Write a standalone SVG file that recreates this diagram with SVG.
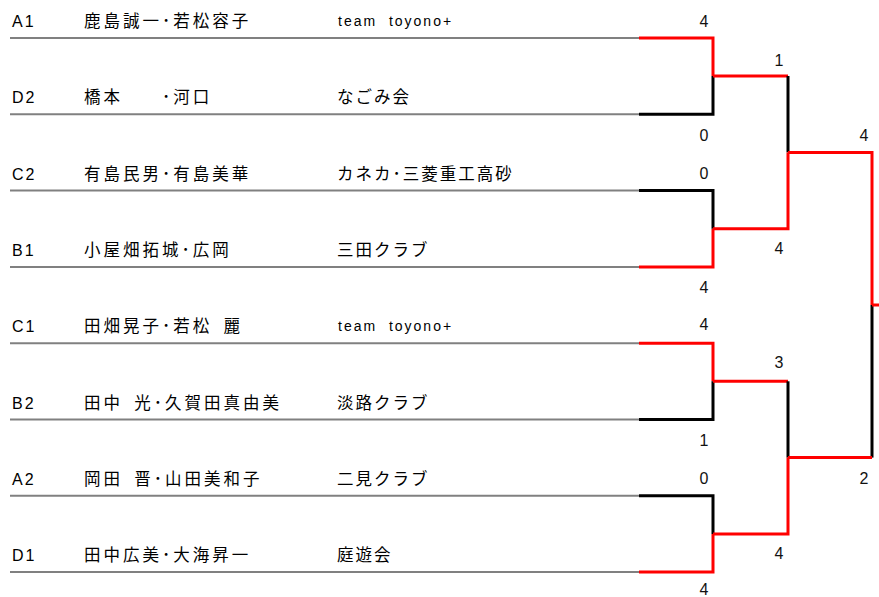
<svg xmlns="http://www.w3.org/2000/svg" width="879" height="597" viewBox="0 0 879 597">
<style>
.bg{fill:#fff}
.seed{font-family:"Liberation Sans","Noto Sans CJK JP",sans-serif;font-size:16px;letter-spacing:2px;fill:#000}
.name{font-family:"Noto Sans CJK JP","Liberation Sans",sans-serif;font-size:16.5px;letter-spacing:3px;fill:#000;white-space:pre}
.team{font-family:"Noto Sans CJK JP","Liberation Sans",sans-serif;font-size:16.5px;letter-spacing:2px;fill:#000;white-space:pre}
.latin{font-family:"Liberation Sans",sans-serif;font-size:14px;letter-spacing:2px;fill:#000;white-space:pre}
.score{font-family:"Liberation Sans",sans-serif;font-size:16px;fill:#111;text-anchor:middle}
.rule{stroke:#808080;stroke-width:2;fill:none}
.win{stroke:#ff0000;stroke-width:3;fill:none}
.lose{stroke:#000;stroke-width:3;fill:none}
</style>
<rect class="bg" x="0" y="0" width="879" height="597"/>

<g id="entry-A1">
<text class="seed" x="12" y="27">A1</text>
<text class="name" x="84" y="27">鹿島誠一･若松容子</text>
<text class="latin" x="338" y="26" xml:space="preserve">team  toyono+</text>
<line class="rule" x1="10" y1="38" x2="639" y2="38"/>
</g>
<g id="entry-D2">
<text class="seed" x="12" y="103.3">D2</text>
<text class="name" x="84" y="103.3">橋本　　･河口</text>
<text class="team" x="337" y="103.3">なごみ会</text>
<line class="rule" x1="10" y1="114.3" x2="639" y2="114.3"/>
</g>
<g id="entry-C2">
<text class="seed" x="12" y="179.6">C2</text>
<text class="name" x="84" y="179.6">有島民男･有島美華</text>
<text class="team" x="337" y="179.6">カネカ･三菱重工高砂</text>
<line class="rule" x1="10" y1="190.6" x2="639" y2="190.6"/>
</g>
<g id="entry-B1">
<text class="seed" x="12" y="255.9">B1</text>
<text class="name" x="84" y="255.9">小屋畑拓城･広岡</text>
<text class="team" x="337" y="255.9">三田クラブ</text>
<line class="rule" x1="10" y1="266.9" x2="639" y2="266.9"/>
</g>
<g id="entry-C1">
<text class="seed" x="12" y="332.2">C1</text>
<text class="name" x="84" y="332.2">田畑晃子･若松&#8194;麗</text>
<text class="latin" x="338" y="331.2" xml:space="preserve">team  toyono+</text>
<line class="rule" x1="10" y1="343.2" x2="639" y2="343.2"/>
</g>
<g id="entry-B2">
<text class="seed" x="12" y="408.5">B2</text>
<text class="name" x="84" y="408.5">田中&#8194;光･久賀田真由美</text>
<text class="team" x="337" y="408.5">淡路クラブ</text>
<line class="rule" x1="10" y1="419.5" x2="639" y2="419.5"/>
</g>
<g id="entry-A2">
<text class="seed" x="12" y="484.8">A2</text>
<text class="name" x="84" y="484.8">岡田&#8194;晋･山田美和子</text>
<text class="team" x="337" y="484.8">二見クラブ</text>
<line class="rule" x1="10" y1="495.8" x2="639" y2="495.8"/>
</g>
<g id="entry-D1">
<text class="seed" x="12" y="561.1">D1</text>
<text class="name" x="84" y="561.1">田中広美･大海昇一</text>
<text class="team" x="337" y="561.1">庭遊会</text>
<line class="rule" x1="10" y1="572.1" x2="639" y2="572.1"/>
</g>

<g id="connectors">
<polyline class="win" points="639,38 713,38 713,76"/>
<polyline class="lose" points="639,114.3 713,114.3 713,76"/>
<polyline class="lose" points="639,190.6 713,190.6 713,228.7"/>
<polyline class="win" points="639,266.9 713,266.9 713,228.7"/>
<polyline class="win" points="639,343.2 713,343.2 713,381.3"/>
<polyline class="lose" points="639,419.5 713,419.5 713,381.3"/>
<polyline class="lose" points="639,495.8 713,495.8 713,534"/>
<polyline class="win" points="639,572.1 713,572.1 713,534"/>
<polyline class="win" points="713,76 788,76"/>
<polyline class="lose" points="788,76 788,152.4"/>
<polyline class="win" points="713,228.7 788,228.7 788,152.4"/>
<polyline class="win" points="713,381.3 788,381.3"/>
<polyline class="lose" points="788,381.3 788,457.6"/>
<polyline class="win" points="713,534 788,534 788,457.6"/>
<polyline class="win" points="788,152.4 872,152.4 872,305"/>
<polyline class="lose" points="872,305 872,457.6"/>
<polyline class="win" points="788,457.6 872,457.6"/>
<line class="win" x1="872" y1="305" x2="879" y2="305"/>
</g>

<g id="scores">
<text class="score" x="704" y="27">4</text>
<text class="score" x="704" y="141">0</text>
<text class="score" x="704" y="179">0</text>
<text class="score" x="704" y="293">4</text>
<text class="score" x="704" y="330">4</text>
<text class="score" x="704" y="446">1</text>
<text class="score" x="704" y="484">0</text>
<text class="score" x="704" y="595">4</text>
<text class="score" x="779" y="66">1</text>
<text class="score" x="779" y="254">4</text>
<text class="score" x="779" y="368">3</text>
<text class="score" x="779" y="559">4</text>
<text class="score" x="864" y="141">4</text>
<text class="score" x="864" y="484">2</text>
</g>
</svg>
